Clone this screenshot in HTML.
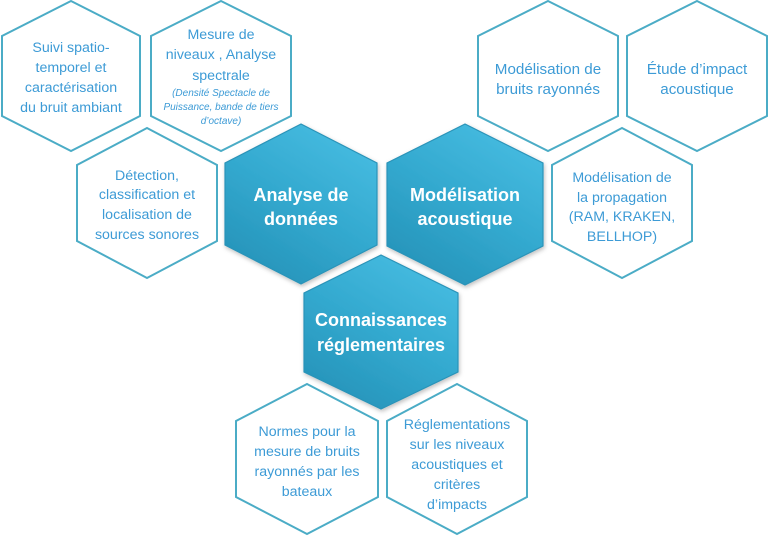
<!DOCTYPE html>
<html>
<head>
<meta charset="utf-8">
<style>
  html, body { margin:0; padding:0; background:#fff; }
  body { width:768px; height:536px; overflow:hidden; }
  svg { display:block; }
  .o { fill:#fff; stroke:#4BACC6; stroke-width:2; }
  .t { font-family:"Liberation Sans", sans-serif; font-size:14.2px; fill:#3d9bd6; text-anchor:middle; }
  .t15 { font-size:15.2px; }
  .i { font-family:"Liberation Sans", sans-serif; font-size:10px; font-style:italic; fill:#3d9bd6; text-anchor:middle; }
  .b { font-family:"Liberation Sans", sans-serif; font-size:18px; font-weight:bold; fill:#ffffff; text-anchor:middle; }
  .f { fill:url(#g); stroke:#2a93b8; stroke-width:1.2; filter:url(#sh); }
</style>
</head>
<body>
<svg width="768" height="536" viewBox="0 0 768 536" xmlns="http://www.w3.org/2000/svg">
  <defs>
    <linearGradient id="g" x1="0.8" y1="0" x2="0.2" y2="1">
      <stop offset="0" stop-color="#48bde2"/>
      <stop offset="0.5" stop-color="#33a9cf"/>
      <stop offset="1" stop-color="#2592b8"/>
    </linearGradient>
    <filter id="sh" x="-10%" y="-10%" width="125%" height="125%">
      <feDropShadow dx="1" dy="2" stdDeviation="2" flood-color="#000" flood-opacity="0.25"/>
    </filter>
  </defs>

  <!-- outline hexes -->
  <polygon class="o" points="71,1 140,36 140,116 71,151 2,116 2,36"/>
  <polygon class="o" points="221,1 291,36 291,116 221,151 151,116 151,36"/>
  <polygon class="o" points="147,128 217,165 217,241 147,278 77,241 77,165"/>
  <polygon class="o" points="548,1 618,36 618,116 548,151 478,116 478,36"/>
  <polygon class="o" points="697,1 767,36 767,116 697,151 627,116 627,36"/>
  <polygon class="o" points="622,128 692,165 692,241 622,278 552,241 552,165"/>
  <polygon class="o" points="307,384 378,421 378,497 307,534 236,497 236,421"/>
  <polygon class="o" points="457,384 527,421 527,497 457,534 387,497 387,421"/>

  <!-- filled hexes -->
  <polygon class="f" points="301,124 377,163 377,245 301,284 225,245 225,163"/>
  <polygon class="f" points="465,124 543,163 543,246 465,285 387,246 387,163"/>
  <polygon class="f" points="381,255 458,293 458,372 381,409 304,372 304,293"/>

  <!-- hex 1 -->
  <text class="t" x="71" y="52">Suivi spatio-</text>
  <text class="t" x="71" y="72">temporel et</text>
  <text class="t" x="71" y="92">caractérisation</text>
  <text class="t" x="71" y="112">du bruit ambiant</text>

  <!-- hex 2 -->
  <text class="t" x="221" y="39">Mesure de</text>
  <text class="t" x="221" y="59">niveaux , Analyse</text>
  <text class="t" x="221" y="80">spectrale</text>
  <text class="i" x="221" y="96">(Densité Spectacle de</text>
  <text class="i" x="221" y="110">Puissance, bande de tiers</text>
  <text class="i" x="221" y="124">d’octave)</text>

  <!-- hex 3 -->
  <text class="t" x="147" y="180">Détection,</text>
  <text class="t" x="147" y="199">classification et</text>
  <text class="t" x="147" y="219">localisation de</text>
  <text class="t" x="147" y="239">sources sonores</text>

  <!-- hex 4 -->
  <text class="t t15" x="548" y="74">Modélisation de</text>
  <text class="t t15" x="548" y="94">bruits rayonnés</text>

  <!-- hex 5 -->
  <text class="t t15" x="697" y="74">Étude d’impact</text>
  <text class="t t15" x="697" y="94">acoustique</text>

  <!-- hex 6 -->
  <text class="t" x="622" y="182">Modélisation de</text>
  <text class="t" x="622" y="202">la propagation</text>
  <text class="t" x="622" y="221">(RAM, KRAKEN,</text>
  <text class="t" x="622" y="241">BELLHOP)</text>

  <!-- hex 7 -->
  <text class="t" x="307" y="436">Normes pour la</text>
  <text class="t" x="307" y="456">mesure de bruits</text>
  <text class="t" x="307" y="476">rayonnés par les</text>
  <text class="t" x="307" y="496">bateaux</text>

  <!-- hex 8 -->
  <text class="t" x="457" y="429">Réglementations</text>
  <text class="t" x="457" y="449">sur les niveaux</text>
  <text class="t" x="457" y="469">acoustiques et</text>
  <text class="t" x="457" y="489">critères</text>
  <text class="t" x="457" y="509">d’impacts</text>

  <!-- filled labels -->
  <text class="b" x="301" y="201">Analyse de</text>
  <text class="b" x="301" y="225">données</text>
  <text class="b" x="465" y="201">Modélisation</text>
  <text class="b" x="465" y="225">acoustique</text>
  <text class="b" x="381" y="326">Connaissances</text>
  <text class="b" x="381" y="351">réglementaires</text>
</svg>
</body>
</html>
